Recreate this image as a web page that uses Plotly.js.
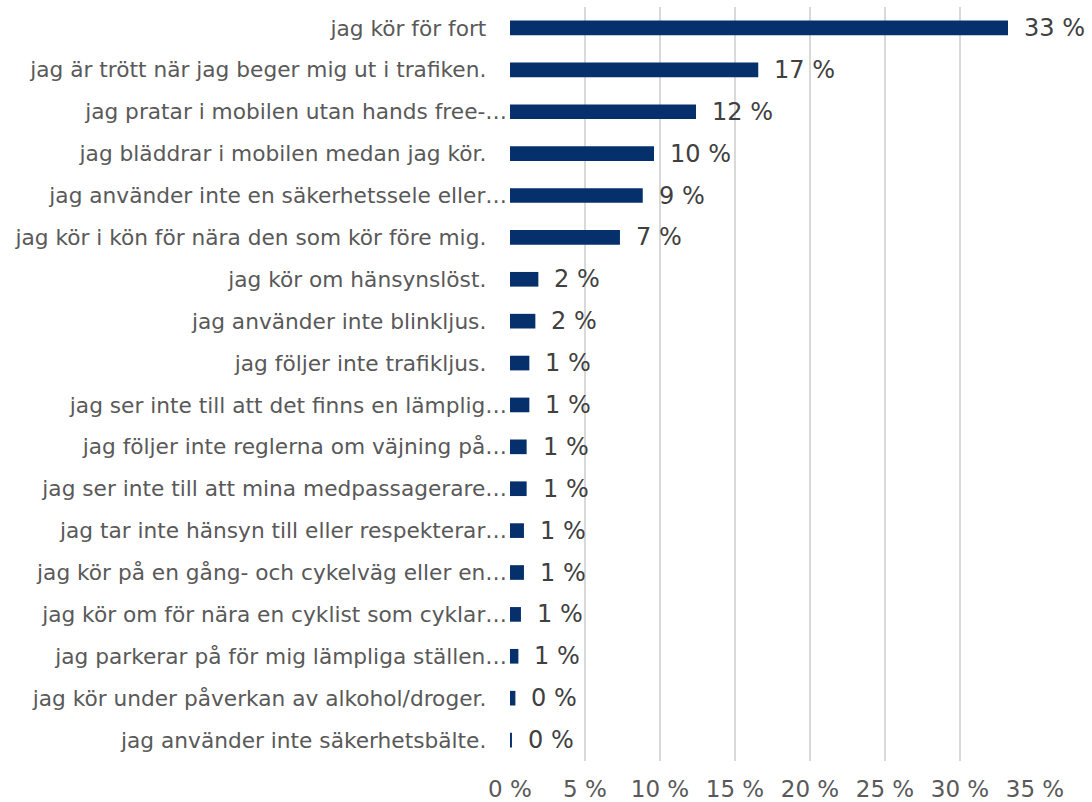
<!DOCTYPE html>
<html>
<head>
<meta charset="utf-8">
<script src="https://cdn.plot.ly/plotly-3.0.1.min.js"></script>
<style>html,body{margin:0;padding:0;background:#fff;}#chart{width:1092px;height:802px;}</style>
</head>
<body>
<div id="chart"></div>
<script>
const categories = [
  "jag kör för fort",
  "jag är trött när jag beger mig ut i trafiken.",
  "jag pratar i mobilen utan hands free-…",
  "jag bläddrar i mobilen medan jag kör.",
  "jag använder inte en säkerhetssele eller…",
  "jag kör i kön för nära den som kör före mig.",
  "jag kör om hänsynslöst.",
  "jag använder inte blinkljus.",
  "jag följer inte trafikljus.",
  "jag ser inte till att det finns en lämplig…",
  "jag följer inte reglerna om väjning på…",
  "jag ser inte till att mina medpassagerare…",
  "jag tar inte hänsyn till eller respekterar…",
  "jag kör på en gång- och cykelväg eller en…",
  "jag kör om för nära en cyklist som cyklar…",
  "jag parkerar på för mig lämpliga ställen…",
  "jag kör under påverkan av alkohol/droger.",
  "jag använder inte säkerhetsbälte."
];
const values = [33.2, 16.55, 12.4, 9.6, 8.85, 7.33, 1.89, 1.69, 1.29, 1.29, 1.11, 1.11, 0.93, 0.93, 0.73, 0.56, 0.36, 0.13];
const tickValues = [0, 5, 10, 15, 20, 25, 30, 35];
const tickLabels = ["0 %", "5 %", "10 %", "15 %", "20 %", "25 %", "30 %", "35 %"];

const ticktext = categories.map(c => c.endsWith('…') ? c : c + '\u00a0\u00a0\u00a0');

const trace = {
  type: 'bar',
  orientation: 'h',
  x: values,
  y: categories,
  marker: {color: '#06306B'},
  width: 0.35,
  hoverinfo: 'skip'
};

const annotations = values.map((v, i) => ({
  x: v, y: categories[i], xref: 'x', yref: 'y',
  text: Math.round(v) + ' %',
  showarrow: false, xanchor: 'left', yanchor: 'middle',
  xshift: 14,
  font: {family: 'DejaVu Sans', size: 24, color: '#404040'}
}));

const layout = {
  width: 1092, height: 802,
  margin: {l: 510, r: 57, t: 7, b: 41},
  paper_bgcolor: '#fff', plot_bgcolor: '#fff',
  showlegend: false,
  font: {family: 'DejaVu Sans', color: '#595959'},
  xaxis: {
    range: [0, 35],
    tickvals: tickValues, ticktext: tickLabels,
    showgrid: true, gridcolor: '#d9d9d9', gridwidth: 2,
    zeroline: false, showline: false,
    ticks: 'outside', ticklen: 7, tickcolor: 'rgba(0,0,0,0)',
    tickfont: {family: 'DejaVu Sans', size: 23, color: '#595959'},
    fixedrange: true
  },
  yaxis: {
    type: 'category',
    categoryorder: 'array', categoryarray: categories,
    autorange: 'reversed',
    tickvals: categories, ticktext: ticktext,
    showgrid: false, zeroline: false, showline: false,
    ticks: '', ticklabelstandoff: 2,
    tickfont: {family: 'DejaVu Sans', size: 21.7, color: '#595959'},
    fixedrange: true
  },
  annotations: annotations,
  bargap: 0.65
};

Plotly.newPlot('chart', [trace], layout, {displayModeBar: false, staticPlot: true});
</script>
</body>
</html>
